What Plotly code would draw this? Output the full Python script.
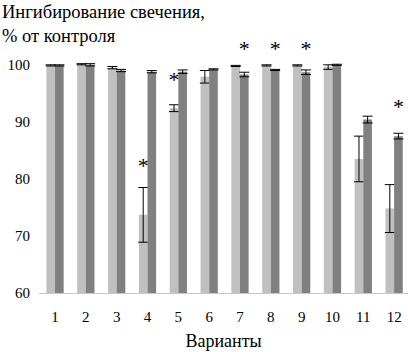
import plotly.graph_objects as go

categories = [1, 2, 3, 4, 5, 6, 7, 8, 9, 10, 11, 12]
tick_labels = ["1", "2", "3", "4", "5", "6", "7", "8", "9", "10", "11", "12"]
light_vals = [99.9, 100.1, 99.5, 73.7, 92.4, 97.9, 99.8, 99.9, 99.9, 99.6, 83.5, 74.8]
light_err = [0.1, 0.1, 0.2, 4.8, 0.6, 1.1, 0.1, 0.1, 0.1, 0.4, 4.0, 4.2]
dark_vals = [99.9, 100.0, 99.0, 98.8, 98.8, 99.2, 98.3, 99.1, 98.7, 100.0, 90.4, 87.5]
dark_err = [0.1, 0.2, 0.2, 0.2, 0.3, 0.1, 0.4, 0.1, 0.4, 0.1, 0.6, 0.5]
# significance marks: category, series (0 = light, 1 = dark), y level
star_cats = [4, 5, 7, 8, 9, 12]
star_series = [0, 0, 1, 1, 1, 1]
star_y = [82.0, 97.0, 102.6, 102.6, 102.6, 92.4]

FF = "Liberation Serif"
bargap = 0.44
half = (1 - bargap) / 4

fig = go.Figure()
fig.add_trace(go.Bar(
    x=categories, y=light_vals, marker_color="#c0c0c0", marker_line_width=0,
    error_y=dict(type="data", array=light_err, color="black", thickness=1, width=5),
))
fig.add_trace(go.Bar(
    x=categories, y=dark_vals, marker_color="#808080", marker_line_width=0,
    error_y=dict(type="data", array=dark_err, color="black", thickness=1, width=5),
))
star_x = [c + (half if s == 1 else -half) for c, s in zip(star_cats, star_series)]
fig.add_trace(go.Scatter(
    x=star_x, y=star_y, mode="text", text=["*"] * len(star_x),
    textposition="middle center",
    textfont=dict(family=FF, size=22, color="#000000"),
))

fig.update_layout(
    template="none",
    width=408, height=352,
    margin=dict(l=39, r=0, t=42, b=59),
    paper_bgcolor="white", plot_bgcolor="white",
    barmode="group", bargap=bargap, bargroupgap=0,
    showlegend=False,
    font=dict(family=FF, size=15, color="#000000"),
    xaxis=dict(
        range=[0.48, 12.45], tickmode="array", tickvals=categories, ticktext=tick_labels,
        showgrid=False, zeroline=False, showline=True, linecolor="#c8c8c8", linewidth=1,
        ticks="", tickfont=dict(family=FF, size=15, color="#000000"), fixedrange=True,
        automargin=False, ticklabelstandoff=10,
        title=dict(text="Варианты", font=dict(family=FF, size=18, color="#000000"), standoff=10),
    ),
    yaxis=dict(
        range=[60, 104], tickvals=[60, 70, 80, 90, 100], showgrid=False, zeroline=False,
        showline=False, ticks="", tickfont=dict(family=FF, size=15, color="#000000"),
        ticklabelstandoff=8, automargin=False,
    ),
    annotations=[dict(
        text="Ингибирование свечения,<br>% от контроля", xref="paper", yref="paper",
        x=-39 / 369, y=1 + 42 / 251, xanchor="left", yanchor="top", align="left",
        showarrow=False, font=dict(family=FF, size=18.5, color="#000000"),
    )],
)
fig.write_html("out.html", config={"displayModeBar": False},
               post_script="document.body.style.margin='0';")
